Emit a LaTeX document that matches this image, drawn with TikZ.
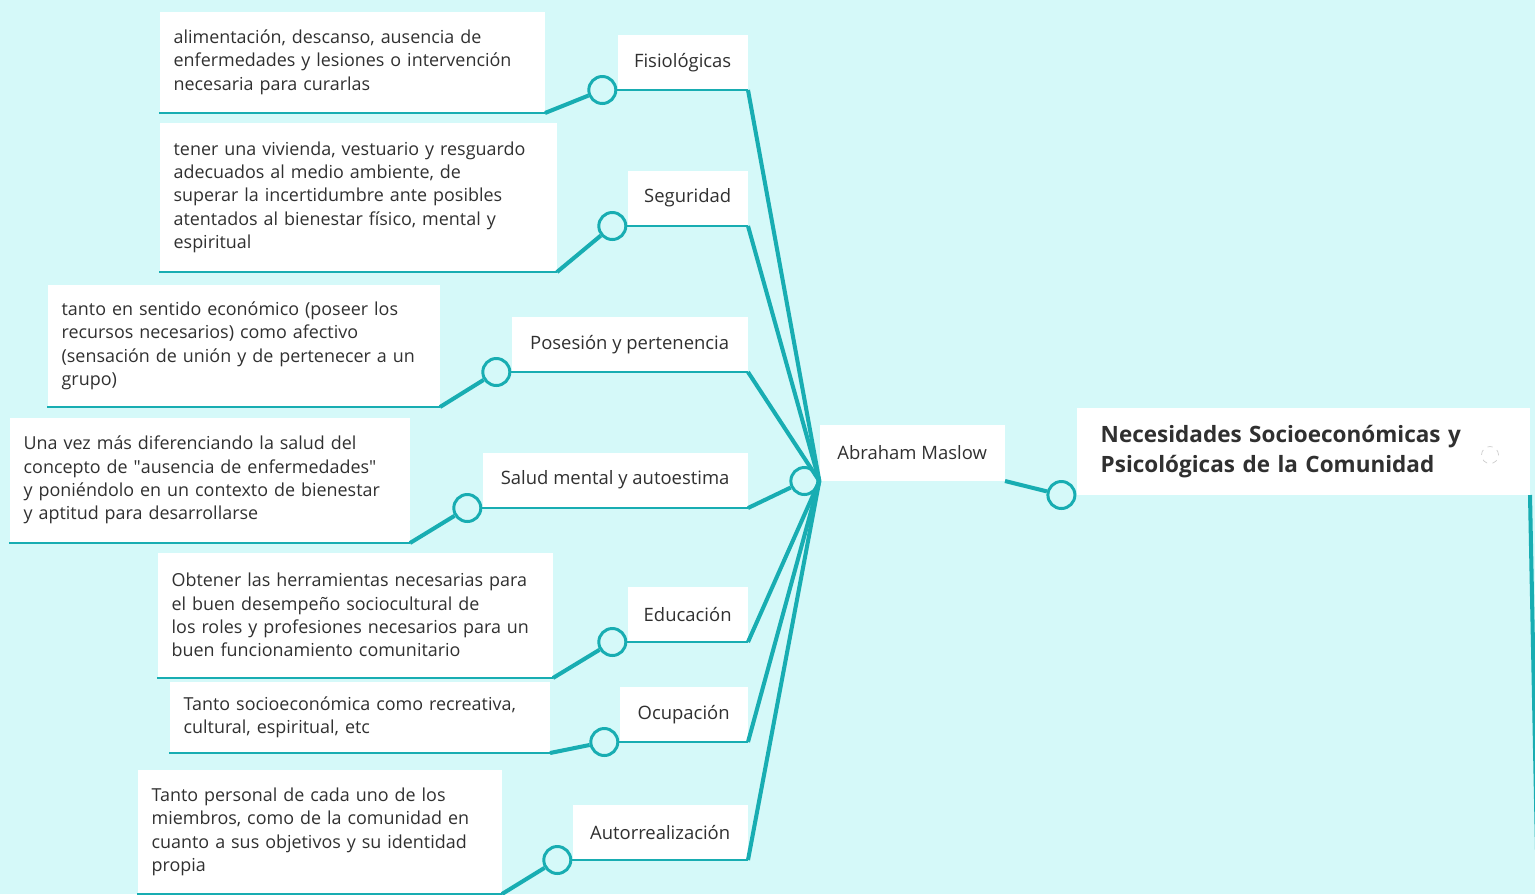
\documentclass[tikz,border=0pt]{standalone}
\usepackage{fontspec}
\setmainfont{Open Sans}
\usetikzlibrary{positioning}
\definecolor{bgcyan}{HTML}{D5F9F9}
\definecolor{mapteal}{HTML}{18ADB2}
\definecolor{textgray}{HTML}{303030}

\begin{document}
\begin{tikzpicture}[x=0.02cm,y=-0.02cm]
  \tikzstyle{box}=[fill=white,inner sep=0pt,anchor=south east,text=textgray]
  \tikzstyle{topic}=[box,font=\fontsize{10.5}{12}\selectfont]
  \tikzstyle{desc}=[box,align=left,inner xsep=0.28cm,font=\fontsize{10.2}{13.3}\selectfont]
  \tikzstyle{knob}=[circle,draw=mapteal,line width=1.7pt,fill=bgcyan,minimum size=0.54cm,inner sep=0pt]
  \tikzstyle{branch}=[draw=mapteal,line width=2.3pt]
  \tikzstyle{underline}=[draw=mapteal,line width=0.6pt]

  \fill[bgcyan] (0,0) rectangle (1535,894);
  \useasboundingbox (0,0) rectangle (1535,894);
  \clip (0,0) rectangle (1535,894);

  % root and first level
  \node[box,minimum width=9.06cm,minimum height=1.74cm,inner xsep=0.48cm,text width=8.1cm,
        font=\fontsize{12.8}{17}\selectfont\bfseries,align=left]
        (root) at (1530,495) {Necesidades Socioeconómicas y\\Psicológicas de la Comunidad};
  \node[circle,draw=black!20,dashed,minimum size=0.34cm,inner sep=0pt] (icon) at (1490,455) {};
  \coordinate (off) at (1538,900);
  \draw[branch] (root.south east) -- (off);
  \node[knob,left=0pt of root.south west] (k-root) {};
  \node[topic,minimum width=3.7cm,minimum height=1.12cm] (mas) at (1005,481) {Abraham Maslow};
  \node[knob,left=0pt of mas.south west] (k-mas) {};
  \draw[branch] (k-root) -- (mas.south east);

  % the needs
  \foreach \name/\y/\w/\txt in {fis/90/130/Fisiológicas, seg/226/120/Seguridad,
      pos/372/236/Posesión y pertenencia, sal/508/265/Salud mental y autoestima,
      edu/642/120/Educación, ocu/742/128/Ocupación, aut/860/175/Autorrealización}{
    \node[topic,minimum width=\w*0.02cm,minimum height=1.1cm] (\name) at (748,\y) {\txt};
    \node[knob,left=0pt of \name.south west] (k-\name) {};
    \draw[underline] (\name.south west) -- (\name.south east);
  }
  \foreach \name in {fis,seg,pos,edu,ocu,aut}
    \draw[branch] (k-mas.east) -- (\name.south east);
  \draw[branch] (k-mas) -- (sal.south east);

  % descriptions
  \foreach \name/\x/\y/\w/\h/\txt in {
      fis/545/113/385/101/{alimentación, descanso, ausencia de\\enfermedades y lesiones o intervención\\necesaria para curarlas},
      seg/557/272/397/149/{tener una vivienda, vestuario y resguardo\\adecuados al medio ambiente, de\\superar la incertidumbre ante posibles\\atentados al bienestar físico, mental y\\espiritual},
      pos/440/407/392/122/{tanto en sentido económico (poseer los\\recursos necesarios) como afectivo\\(sensación de unión y de pertenecer a un\\grupo)},
      sal/410/543/400/125/{Una vez más diferenciando la salud del\\concepto de \textquotedbl ausencia de enfermedades\textquotedbl\\y poniéndolo en un contexto de bienestar\\y aptitud para desarrollarse},
      edu/553/678/395/125/{Obtener las herramientas necesarias para\\el buen desempeño sociocultural de\\los roles y profesiones necesarios para un\\buen funcionamiento comunitario},
      ocu/550/753/380/71/{Tanto socioeconómica como recreativa,\\cultural, espiritual, etc},
      aut/502/894/364/124/{Tanto personal de cada uno de los\\miembros, como de la comunidad en\\cuanto a sus objetivos y su identidad\\propia}}{
    \node[desc,minimum width=\w*0.02cm,minimum height=\h*0.02cm,text width=\w*0.02cm-0.56cm]
      (d-\name) at (\x,\y) {\txt};
    \draw[underline] (d-\name.south west) -- (d-\name.south east);
    \draw[branch] (k-\name) -- (d-\name.south east);
  }
\end{tikzpicture}
\end{document}
